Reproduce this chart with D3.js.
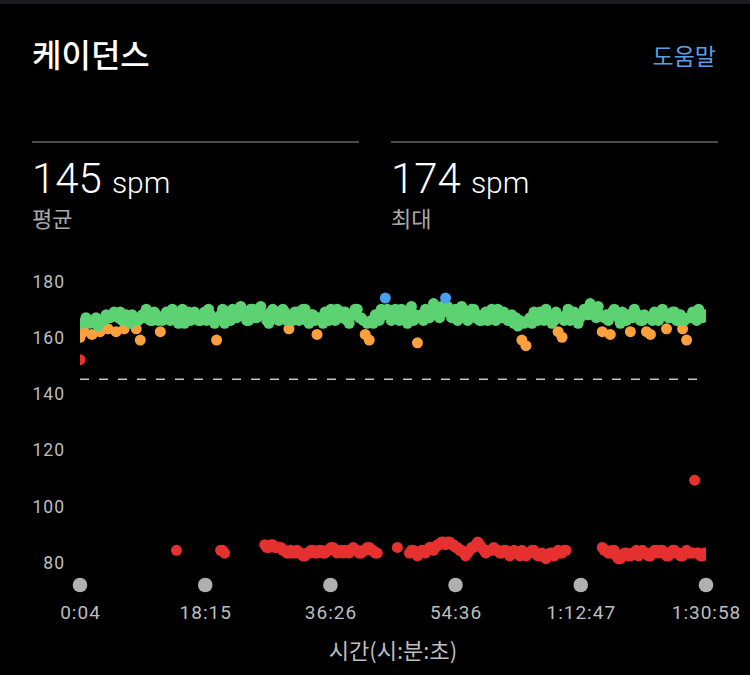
<!DOCTYPE html>
<html><head><meta charset="utf-8">
<script src="https://cdn.jsdelivr.net/npm/d3@7"></script>
<style>
html,body{margin:0;padding:0;background:#000;}
svg{display:block;}
</style></head>
<body>
<svg id="chart" width="750" height="675"></svg>
<script>
// ---------- data ----------
const titleText = "케이던스";
const helpText = "도움말";
const statValues = [145, 174];
const statLabels = ["평균", "최대"];
const statUnit = "spm";
const averageCadence = 145;
const yTicks = [80, 100, 120, 140, 160, 180];
const xTickSeconds = [4, 1095, 2186, 3276, 4367, 5458];
const xAxisTitle = "시간(시:분:초)";
const zoneBreaks = [153, 164, 174];
const zoneColors = ["#e5312f", "#fba03c", "#5cd273", "#4a9ff0"];

// samples: elapsed seconds = start + index * step
const sampleStartSec = 4;
const sampleStepSec = 17.5;

// main cadence trace (spm), one value per sample
const cadence = [
  160,165,162,167,166,165,161,166,167,164,162,166,166,168,163,167,168,169,162,167,
  169,166,163,168,167,165,168,166,163,166,159,168,167,170,169,166,166,169,168,166,
  162,166,167,169,169,166,170,168,167,165,168,170,165,167,169,166,167,169,168,166,
  166,168,169,166,170,168,167,165,159,167,168,170,165,167,169,166,170,168,167,170,
  171,169,168,166,166,170,170,167,167,169,171,168,168,166,165,169,170,167,168,166,
  167,170,169,166,163,167,166,169,169,166,167,170,170,166,165,168,168,166,161,167,
  167,165,169,167,166,170,168,166,170,167,167,169,169,166,165,168,168,170,170,167,
  167,166,161,165,159,166,165,168,168,166,170,168,174,170,169,166,167,170,168,166,
  170,168,167,165,169,171,166,168,158,167,168,166,170,168,167,169,172,170,169,167,
  171,169,174,171,170,167,168,170,166,169,171,168,169,166,167,170,170,167,168,166,
  166,168,169,166,167,170,168,166,170,168,167,169,168,166,166,168,165,167,164,166,
  159,165,157,166,167,165,169,167,166,169,168,166,170,168,167,165,166,169,162,167,
  160,166,168,170,166,168,169,166,165,167,168,170,170,168,172,170,169,167,171,168,
  162,167,168,166,161,169,170,168,167,165,169,167,166,168,162,167,170,168,168,166,
  166,168,162,167,161,166,169,167,166,169,170,168,163,167,167,169,169,166,166,168,
  163,166,159,167,167,169,168,166,170,168,167,168
];

// secondary low trace (spm), null where absent
const lowCadence = [
  152,null,null,null,null,null,null,null,null,null,null,null,null,null,null,null,null,null,null,null,
  null,null,null,null,null,null,null,null,null,null,null,null,null,null,null,null,null,null,null,null,
  null,null,null,null,null,null,null,null,84,null,null,null,null,null,null,null,null,null,null,null,
  null,null,null,null,null,null,null,null,null,null,84,84,83,null,null,null,null,null,null,null,
  null,null,null,null,null,null,null,null,null,null,null,null,86,85,85,86,86,85,85,85,
  85,84,84,83,83,84,83,83,84,83,83,82,82,83,83,84,84,83,83,84,
  84,83,83,84,84,85,85,84,83,84,84,83,84,84,83,84,85,84,84,83,
  83,84,84,85,85,84,84,83,83,null,null,null,null,null,null,null,null,null,85,null,
  null,null,null,null,83,84,84,83,82,83,84,84,83,84,85,85,84,85,86,86,
  87,87,86,87,87,86,86,85,85,84,84,83,82,83,84,85,85,86,87,86,
  85,84,83,84,84,84,85,84,84,83,83,84,84,83,82,83,84,83,83,82,
  84,83,82,83,83,84,84,83,82,82,83,82,81,82,83,83,82,83,84,83,
  83,84,84,null,null,null,null,null,null,null,null,null,null,null,null,null,null,null,null,null,
  85,84,84,83,83,84,84,82,81,81,82,83,83,82,82,83,83,84,82,83,
  84,83,83,82,82,83,84,84,83,84,84,83,82,82,83,84,84,83,83,82,
  82,83,84,83,83,83,109,83,83,82,82,83
];

// ---------- chart ----------
const svg = d3.select("#chart");
const W = 750, H = 675;
const KR = "'Noto Sans CJK KR','Noto Sans',sans-serif";
const NUM = "Roboto,'Noto Sans',sans-serif";

svg.append("rect").attr("width", W).attr("height", H).attr("fill", "#000");
svg.append("rect").attr("width", W).attr("height", 4).attr("fill", "#1c1c1e");

svg.append("text").attr("x", 32).attr("y", 67)
  .attr("fill", "#fff").style("font-family", KR).style("font-size", "32px")
  .style("font-weight", 500).text(titleText);
svg.append("text").attr("x", 716).attr("y", 65).attr("text-anchor", "end")
  .attr("fill", "#5a9fe6").style("font-family", KR).style("font-size", "23px")
  .text(helpText);

const statX = [32, 391];
statValues.forEach((v, i) => {
  svg.append("line").attr("x1", statX[i]).attr("x2", statX[i] + 327)
    .attr("y1", 142).attr("y2", 142).attr("stroke", "#4a4a4a").attr("stroke-width", 2);
  const t = svg.append("text").attr("x", statX[i]).attr("y", 193).attr("fill", "#fff")
    .style("font-family", NUM);
  t.append("tspan").style("font-size", "42px").style("font-weight", 300).text(v);
  t.append("tspan").attr("dx", 10).style("font-size", "30px").style("font-weight", 300).text(statUnit);
  svg.append("text").attr("x", statX[i]).attr("y", 227).attr("fill", "#a8a8a8")
    .style("font-family", KR).style("font-size", "22px").text(statLabels[i]);
});

const x = d3.scaleLinear().domain([xTickSeconds[0], xTickSeconds[xTickSeconds.length - 1]]).range([80, 706]);
const y = d3.scaleLinear().domain([80, 180]).range([561.5, 281.2]);
const zone = d3.scaleThreshold().domain(zoneBreaks).range(zoneColors);

const fmt = s => {
  const h = Math.floor(s / 3600), m = Math.floor((s % 3600) / 60), sec = s % 60;
  const pad = n => String(n).padStart(2, "0");
  return h > 0 ? `${h}:${pad(m)}:${pad(sec)}` : `${m}:${pad(sec)}`;
};

// y axis
const yAxis = svg.append("g").attr("transform", "translate(65,1)")
  .call(d3.axisLeft(y).tickValues(yTicks).tickSize(0).tickPadding(0));
yAxis.select(".domain").remove();
yAxis.selectAll("text").attr("fill", "#bdbdbd").style("font-family", NUM)
  .style("font-size", "17.5px").style("letter-spacing", "1px");

// x axis
const xAxis = svg.append("g").attr("transform", "translate(0,605)")
  .call(d3.axisBottom(x).tickValues(xTickSeconds).tickFormat(fmt).tickSize(0).tickPadding(0));
xAxis.select(".domain").remove();
xAxis.selectAll("text").attr("fill", "#bdbdbd").style("font-family", NUM)
  .style("font-size", "19px").style("letter-spacing", "1px");
svg.append("g").selectAll("circle").data(xTickSeconds).join("circle")
  .attr("cx", d => x(d)).attr("cy", 585).attr("r", 7.3).attr("fill", "#b0b0b0");

svg.append("text").attr("x", 393).attr("y", 659).attr("text-anchor", "middle")
  .attr("fill", "#bdbdbd").style("font-family", KR).style("font-size", "22px").text(xAxisTitle);

// average line
svg.append("line").attr("x1", x.range()[0]).attr("x2", x.range()[1])
  .attr("y1", y(averageCadence)).attr("y2", y(averageCadence))
  .attr("stroke", "#c4c4c4").attr("stroke-width", 1.5).attr("stroke-dasharray", "9,10");

// points
svg.append("clipPath").attr("id", "plotclip").append("rect")
  .attr("x", x.range()[0]).attr("y", 250).attr("width", x.range()[1] - x.range()[0]).attr("height", 330);

const points = [];
[cadence, lowCadence].forEach(series => {
  series.forEach((v, i) => {
    if (v == null) return;
    points.push({ t: sampleStartSec + i * sampleStepSec, v });
  });
});
points.forEach(p => p.z = zoneColors.indexOf(zone(p.v)));
points.sort((a, b) => a.z - b.z);

svg.append("g").attr("clip-path", "url(#plotclip)")
  .selectAll("circle").data(points).join("circle")
  .attr("cx", d => x(d.t)).attr("cy", d => y(d.v)).attr("r", 5.5)
  .attr("fill", d => zone(d.v));
</script>
</body></html>
